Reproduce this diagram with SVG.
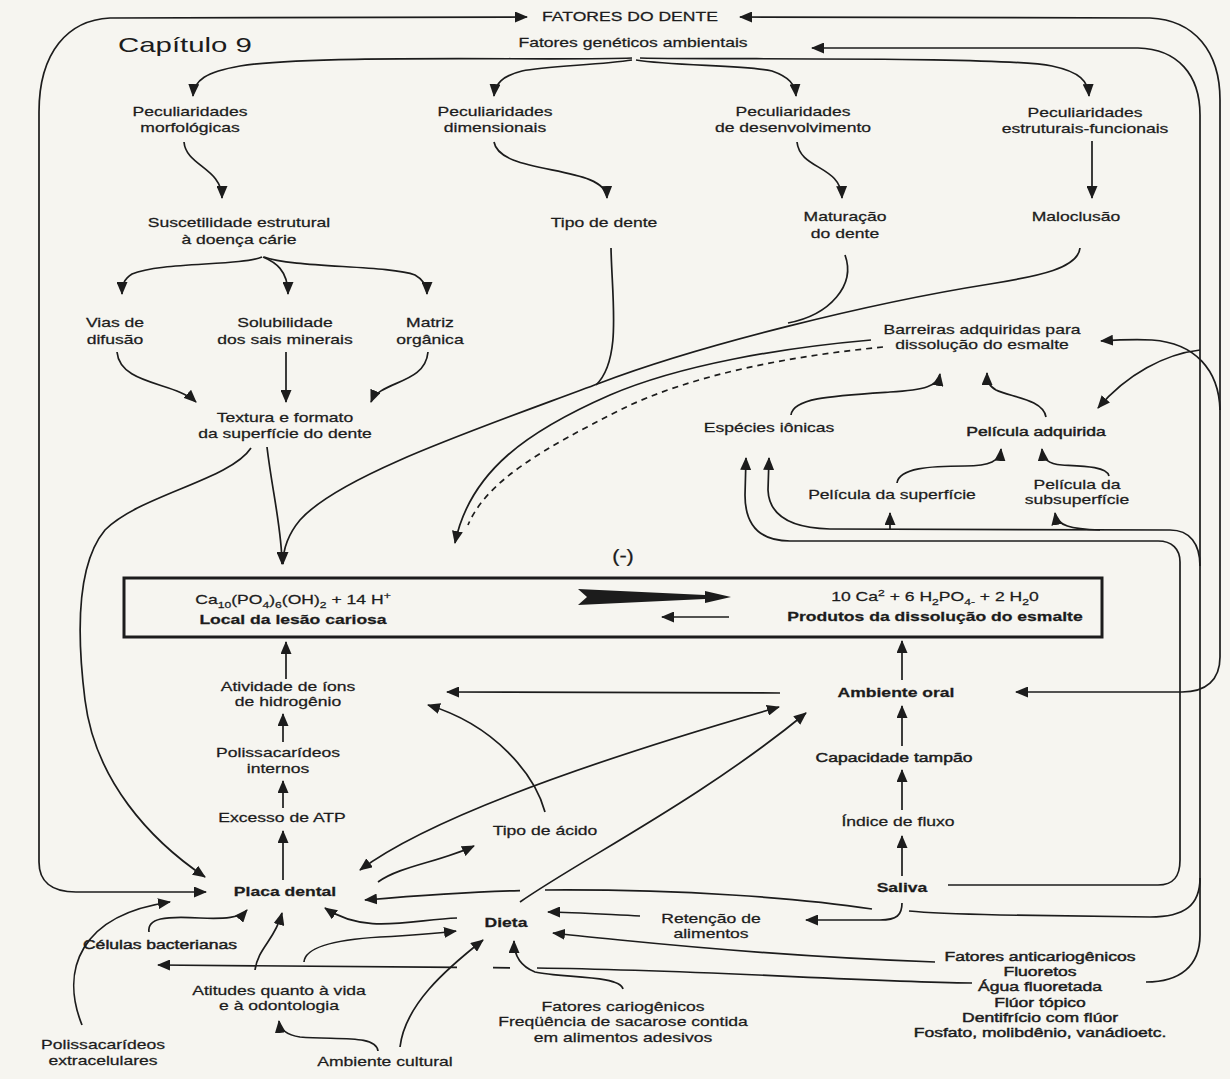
<svg xmlns="http://www.w3.org/2000/svg" width="1230" height="1079" viewBox="0 0 1230 1079">
<defs>
<style>
text{font-family:'Liberation Sans',Arial,Helvetica,sans-serif;font-size:13px;fill:#1c1c1c;text-anchor:middle;stroke:#1c1c1c;stroke-width:0.25}
.b{font-weight:bold}
.hv{stroke-width:0.45}
.sub{font-size:9px;baseline-shift:-3px}
.sup{font-size:9px;baseline-shift:5px}
#connectors path{fill:none;stroke:#1c1c1c;stroke-width:1.7}
#connectors .e{marker-end:url(#ah)}
#connectors .s{marker-start:url(#ah)}
#connectors .d{stroke-dasharray:6 5}
</style>
<marker id="ah" viewBox="0 0 13 11" refX="12" refY="5.5" markerWidth="13" markerHeight="11" markerUnits="userSpaceOnUse" orient="auto-start-reverse">
<path d="M0,0 L13,5.5 L0,11 z" fill="#1c1c1c"/>
</marker>
</defs>
<rect width="1230" height="1079" fill="#f6f5f0"/>

<g id="connectors">
<!-- outer loops -->
<path class="s e" d="M527,17 L110,18 C68,20 39,52 39,112 L39,862 C39,881 51,892 76,892 L206,892"/>
<path class="s e" d="M740,17 L1150,18 C1195,20 1220,52 1220,100 L1220,657 C1220,680 1206,692 1182,692 L1016,692"/>
<path class="e" d="M1220,410 C1219,370 1195,343 1152,340 C1132,339 1116,340 1101,341"/>
<path class="s" d="M812,48 L1138,48 C1178,49 1200,75 1200,115 L1200,935 C1200,966 1180,982 1146,982"/>
<path class="e" d="M1200,350 C1165,354 1127,374 1098,408"/>
<path class="e" d="M1200,566 C1200,544 1190,530 1170,530 L830,529 C790,528 769,515 768,490 L769,458"/>
<path class="e" d="M890,529 L890,513"/>
<path class="e" d="M1100,530 C1071,529 1057,526 1055,513"/>
<path d="M1200,878 C1200,905 1185,917 1150,917 L1000,915 C960,914 930,913 909,911"/>
<path class="e" d="M948,885 L1158,885 C1174,885 1180,876 1180,860 L1180,562 C1180,549 1172,541 1158,541 L790,541 C761,541 745,526 745,495 L746,458"/>
<path d="M972,983 C850,981 700,970 537,968"/>
<path d="M510,967.8 L493,967.7"/>
<path class="e" d="M457,967.4 L158,965"/>

<!-- genetic factors branches -->
<path class="e" d="M632,58 C560,61 310,54 240,66 C206,72 194,80 193,96"/>
<path class="e" d="M632,60 C600,65 545,66 522,71 C502,76 495,84 494,96"/>
<path class="e" d="M636,60 C672,66 748,65 772,71 C789,77 795,84 796,96"/>
<path class="e" d="M640,58 C720,60 1000,56 1052,66 C1080,72 1088,81 1089,96"/>
<path class="e" d="M184,142 C186,166 222,168 222,198"/>
<path class="e" d="M494,142 C500,176 606,164 607,198"/>
<path class="e" d="M797,142 C800,170 841,165 842,198"/>
<path class="e" d="M1092,141 L1092,198"/>

<!-- susceptibility -->
<path class="e" d="M262,257 C240,266 160,262 132,274 C124,279 122,285 122,294"/>
<path class="e" d="M263,257 C275,262 288,270 288,294"/>
<path class="e" d="M264,257 C292,268 390,265 415,275 C424,280 427,286 427,294"/>
<path class="e" d="M117,352 C120,385 175,382 196,402"/>
<path class="e" d="M286,352 L286,402"/>
<path class="e" d="M428,352 C425,385 380,380 371,402"/>

<!-- texture and lesion -->
<path class="e" d="M251,448 C230,480 140,495 105,530 C80,560 75,620 85,700 C95,780 150,840 205,877"/>
<path class="e" d="M267,447 C272,490 282,530 282,564"/>
<path class="e" d="M1080,248 C1078,268 1040,276 990,284 C870,303 700,345 600,383 C480,428 340,475 300,520 C290,532 283,548 283,564"/>
<path d="M611,248 C612,300 622,360 596,385"/>
<path d="M845,255 C856,285 830,315 788,323"/>
<path class="e" d="M871,340 C780,348 680,365 610,395 C530,430 470,470 455,543"/>
<path class="d" d="M883,347 C790,356 690,375 620,410 C545,448 487,480 468,525"/>

<!-- barriers -->
<path class="e" d="M791,415 C793,398 830,396 890,392 C925,390 938,386 940,374"/>
<path class="e" d="M1046,417 C1043,399 1010,397 996,390 C989,386 987,381 987,373"/>
<path class="e" d="M897,483 C899,468 930,466 965,466 C990,466 1000,461 1001,449"/>
<path class="e" d="M1109,476 C1107,466 1080,466 1062,465 C1048,464 1043,459 1042,449"/>

<!-- equilibrium -->
<path class="e" d="M729,617 L662,617"/>

<!-- vertical chains -->
<path class="e" d="M902,680 L902,641"/>
<path class="e" d="M902,746 L902,706"/>
<path class="e" d="M902,810 L902,770"/>
<path class="e" d="M902,876 L902,836"/>
<path class="e" d="M286,679 L286,642"/>
<path class="e" d="M283,742 L283,714"/>
<path class="e" d="M283,808 L283,781"/>
<path class="e" d="M283,880 L283,831"/>

<!-- plaque / diet web -->
<path class="e" d="M780,693 L447,692"/>
<path class="e" d="M545,812 C535,775 495,725 428,705"/>
<path class="s e" d="M360,870 C420,825 560,770 779,707"/>
<path d="M872,909 C800,898 680,889 545,890"/>
<path class="e" d="M520,890.6 C460,892 400,897 365,900"/>
<path class="e" d="M520,902 C580,860 700,800 806,713"/>
<path class="e" d="M378,882 C400,866 440,862 474,846"/>
<path class="e" d="M457,918 C410,920 365,935 325,908"/>
<path class="e" d="M304,962 C305,948 330,940 380,937 C420,935 440,933 456,931"/>
<path class="e" d="M400,1047 C405,1005 445,970 483,940"/>
<path class="e" d="M623,989 C620,975 560,978 535,972 C520,966 514,955 514,941"/>
<path class="e" d="M640,916 C600,914 570,912 548,912"/>
<path class="e" d="M935,962 C820,958 700,948 620,940 C590,937 570,935 553,933"/>
<path class="e" d="M902,903 C902,915 897,920 880,920 L806,920"/>
<path class="e" d="M255,970 C258,948 275,940 282,913"/>
<path class="e" d="M149,932 C147,918 165,916 200,918 C225,919 240,918 247,910"/>
<path class="e" d="M82,1025 C60,970 80,915 170,902"/>
<path class="e" d="M378,1051 C376,1035 340,1040 300,1037 C287,1035 280,1030 279,1021"/>
</g>

<polygon id="big-arrow" points="578,589 705,595 705,591 731,597 705,603 705,599 578,605 587,597" fill="#1c1c1c"/>

<g id="n-capitulo" transform="translate(118,0) scale(1.4,1)"><text x="0" y="52" style="font-size:21px;text-anchor:start;stroke-width:0">Capítulo 9</text></g>
<g id="n-fatores-dente" transform="translate(630,0) scale(1.35,1)"><text y="21.5">FATORES DO DENTE</text></g>
<g id="n-fatores-geneticos" transform="translate(633,0) scale(1.35,1)"><text y="47.5">Fatores genéticos ambientais</text></g>
<g id="n-pec-morf" transform="translate(190,0) scale(1.35,1)"><text y="116.5">Peculiaridades</text><text y="132.5">morfológicas</text></g>
<g id="n-pec-dim" transform="translate(495,0) scale(1.35,1)"><text y="116.5">Peculiaridades</text><text y="132.5">dimensionais</text></g>
<g id="n-pec-desenv" transform="translate(793,0) scale(1.35,1)"><text y="116.5">Peculiaridades</text><text y="132.5">de desenvolvimento</text></g>
<g id="n-pec-estrut" transform="translate(1085,0) scale(1.35,1)"><text y="117.5">Peculiaridades</text><text y="133.5">estruturais-funcionais</text></g>
<g id="n-suscet" transform="translate(239,0) scale(1.35,1)"><text y="227.5">Suscetilidade estrutural</text><text y="244.5">à doença cárie</text></g>
<g id="n-tipo-dente" transform="translate(604,0) scale(1.35,1)"><text y="227.5">Tipo de dente</text></g>
<g id="n-maturacao" transform="translate(845,0) scale(1.35,1)"><text y="221.5">Maturação</text><text y="237.5">do dente</text></g>
<g id="n-maloclusao" transform="translate(1076,0) scale(1.35,1)"><text y="221.5">Maloclusão</text></g>
<g id="n-vias" transform="translate(115,0) scale(1.35,1)"><text y="327.5">Vias de</text><text y="344.5">difusão</text></g>
<g id="n-solub" transform="translate(285,0) scale(1.35,1)"><text y="327.5">Solubilidade</text><text y="344.5">dos sais minerais</text></g>
<g id="n-matriz" transform="translate(430,0) scale(1.35,1)"><text y="327.5">Matriz</text><text y="344.5">orgânica</text></g>
<g id="n-barreiras" transform="translate(982,0) scale(1.35,1)"><text y="334.5">Barreiras adquiridas para</text><text y="349.5">dissolução do esmalte</text></g>
<g id="n-textura" transform="translate(285,0) scale(1.35,1)"><text y="422.5">Textura e formato</text><text y="438.5">da superfície do dente</text></g>
<g id="n-especies" transform="translate(769,0) scale(1.35,1)"><text y="432.5">Espécies iônicas</text></g>
<g id="n-pel-adq" transform="translate(1036,0) scale(1.35,1)"><text class="hv" y="436.5">Película adquirida</text></g>
<g id="n-pel-sup" transform="translate(892,0) scale(1.35,1)"><text y="499.5">Película da superfície</text></g>
<g id="n-pel-sub" transform="translate(1077,0) scale(1.35,1)"><text y="489.5">Película da</text><text y="504.5">subsuperfície</text></g>
<g id="n-menos" transform="translate(623,0) scale(1.2,1)"><text y="562" style="font-size:18px">(-)</text></g>

<g id="n-reacao">
<rect x="124" y="578" width="978" height="59" fill="none" stroke="#1c1c1c" stroke-width="3"/>
<g transform="translate(293,0) scale(1.35,1)"><text y="604.5">Ca<tspan class="sub">10</tspan>(PO<tspan class="sub">4</tspan>)<tspan class="sub">6</tspan>(OH)<tspan class="sub">2</tspan> + 14 H<tspan class="sup">+</tspan></text><text class="b" y="624.5">Local da lesão cariosa</text></g>
<g transform="translate(935,0) scale(1.35,1)"><text y="601.5">10 Ca<tspan class="sup">2</tspan> + 6 H<tspan class="sub">2</tspan>PO<tspan class="sub">4-</tspan> + 2 H<tspan class="sub">2</tspan>0</text><text class="b" y="621.5">Produtos da dissolução do esmalte</text></g>
</g>

<g id="n-ambiente-oral" transform="translate(896,0) scale(1.35,1)"><text class="b" y="697.5">Ambiente oral</text></g>
<g id="n-atividade" transform="translate(288,0) scale(1.35,1)"><text y="691.5">Atividade de íons</text><text y="706.5">de hidrogênio</text></g>
<g id="n-poli-int" transform="translate(278,0) scale(1.35,1)"><text y="757.5">Polissacarídeos</text><text y="773.5">internos</text></g>
<g id="n-capacidade" transform="translate(894,0) scale(1.35,1)"><text class="hv" y="762.5">Capacidade tampão</text></g>
<g id="n-excesso" transform="translate(282,0) scale(1.35,1)"><text y="822.5">Excesso de ATP</text></g>
<g id="n-tipo-acido" transform="translate(545,0) scale(1.35,1)"><text y="835.5">Tipo de ácido</text></g>
<g id="n-indice" transform="translate(898,0) scale(1.35,1)"><text y="826.5">Índice de fluxo</text></g>
<g id="n-placa" transform="translate(285,0) scale(1.35,1)"><text class="b" y="896.5">Placa dental</text></g>
<g id="n-saliva" transform="translate(902,0) scale(1.35,1)"><text class="b" y="892.5">Saliva</text></g>
<g id="n-dieta" transform="translate(506,0) scale(1.35,1)"><text class="b" y="927.5">Dieta</text></g>
<g id="n-retencao" transform="translate(711,0) scale(1.35,1)"><text y="923.5">Retenção de</text><text y="938.5">alimentos</text></g>
<g id="n-celulas" transform="translate(160,0) scale(1.35,1)"><text class="hv" y="949.5">Células bacterianas</text></g>
<g id="n-anticario" transform="translate(1040,0) scale(1.35,1)"><text class="hv" y="961.5">Fatores anticariogênicos</text><text class="hv" y="976.5">Fluoretos</text><text class="hv" y="991.5">Água fluoretada</text><text class="hv" y="1007.5">Flúor tópico</text><text class="hv" y="1022.5">Dentifrício  com flúor</text><text class="hv" y="1037.5">Fosfato, molibdênio, vanádioetc.</text></g>
<g id="n-atitudes" transform="translate(279,0) scale(1.35,1)"><text y="995.5">Atitudes quanto à vida</text><text y="1010.5">e à odontologia</text></g>
<g id="n-cario" transform="translate(623,0) scale(1.35,1)"><text y="1011.5">Fatores cariogênicos</text><text y="1026.5">Freqüência de sacarose contida</text><text y="1042.5">em alimentos adesivos</text></g>
<g id="n-poli-ext" transform="translate(103,0) scale(1.35,1)"><text y="1049.5">Polissacarídeos</text><text y="1065.5">extracelulares</text></g>
<g id="n-amb-cultural" transform="translate(385,0) scale(1.35,1)"><text y="1066.5">Ambiente cultural</text></g>
</svg>
